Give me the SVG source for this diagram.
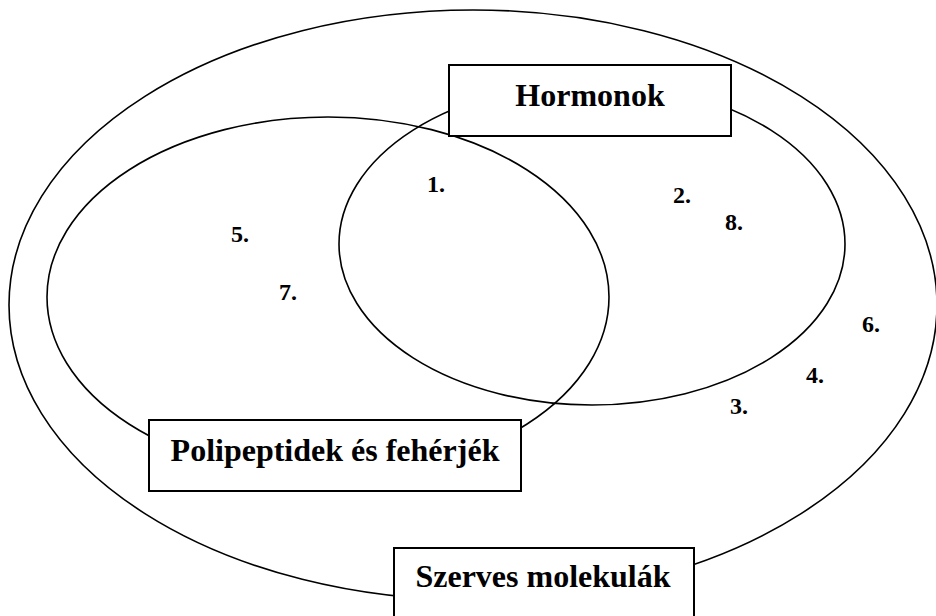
<svg xmlns="http://www.w3.org/2000/svg" width="936" height="616" viewBox="0 0 936 616">
<style>
.set{fill:none;stroke:#000;stroke-width:1.6}
.box{fill:#fff;stroke:#000;stroke-width:2}
.lbl{font-family:'Liberation Serif','Tinos','Times New Roman','DejaVu Serif',serif;font-weight:bold;font-size:32px;fill:#000;text-anchor:middle}
.num{font-family:'Liberation Serif','Tinos','Times New Roman','DejaVu Serif',serif;font-weight:bold;font-size:24px;fill:#000}
</style>
<rect width="936" height="616" fill="#fff"/>
<g id="sets">
<ellipse id="szerves-set" class="set" cx="473" cy="305" rx="464" ry="295"/>
<ellipse id="polipeptid-set" class="set" cx="328" cy="297" rx="281" ry="180"/>
<ellipse id="hormon-set" class="set" cx="592" cy="244" rx="253" ry="161"/>
</g>
<g id="hormonok">
<rect class="box" x="449" y="65" width="282" height="71"/>
<text class="lbl" x="590" y="106" font-family="Liberation Serif, serif">Hormonok</text>
</g>
<g id="polipeptidek">
<rect class="box" x="149" y="420" width="372" height="71"/>
<text class="lbl" x="335" y="461" font-family="Liberation Serif, serif">Polipeptidek és fehérjék</text>
</g>
<g id="szerves">
<rect class="box" x="394" y="548" width="300" height="80"/>
<text class="lbl" x="543" y="587" font-family="Liberation Serif, serif">Szerves molekulák</text>
</g>
<g id="numbers">
<text class="num" x="427" y="192">1.</text>
<text class="num" x="673" y="203">2.</text>
<text class="num" x="730" y="414">3.</text>
<text class="num" x="806" y="383">4.</text>
<text class="num" x="231" y="242">5.</text>
<text class="num" x="862" y="332">6.</text>
<text class="num" x="279" y="300">7.</text>
<text class="num" x="725" y="230">8.</text>
</g>
</svg>
